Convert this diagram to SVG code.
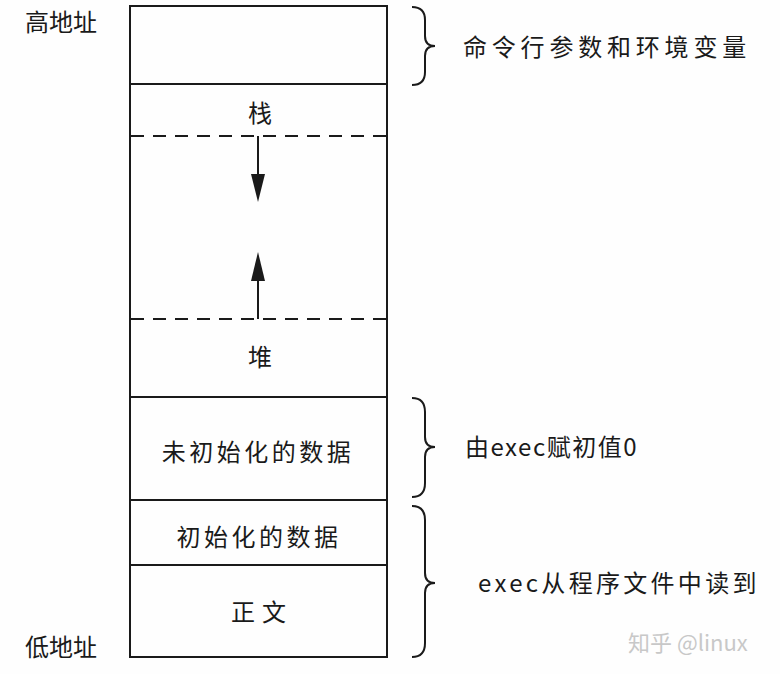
<svg xmlns="http://www.w3.org/2000/svg" width="780" height="674" viewBox="0 0 780 674">
<style>
.t{font-family:"Noto Sans CJK SC","Noto Sans",sans-serif;fill:#1a1a1a;font-size:24px;}
.c{text-anchor:middle;}
.box{fill:none;stroke:#1a1a1a;stroke-width:2;}
.dash{stroke:#1a1a1a;stroke-width:2;stroke-dasharray:13,9;}
.brace{fill:none;stroke:#1a1a1a;stroke-width:2;}
.arr{stroke:#1a1a1a;stroke-width:2;}
</style>
<rect width="780" height="674" fill="#fefefe"/>
<g id="labels-addr">
<text class="t" x="25" y="31" font-size="25">高地址</text>
<text class="t" x="25" y="656" font-size="25">低地址</text>
</g>
<g id="memory">
<rect class="box" x="130" y="6" width="257" height="651"/>
<line class="box" x1="130" y1="84" x2="387" y2="84"/>
<line class="dash" x1="131" y1="136" x2="386" y2="136"/>
<line class="dash" x1="131" y1="319" x2="386" y2="319"/>
<line class="box" x1="130" y1="397" x2="387" y2="397"/>
<line class="box" x1="130" y1="500" x2="387" y2="500"/>
<line class="box" x1="130" y1="565" x2="387" y2="565"/>
</g>
<g id="stack"><text class="t c" x="260" y="122">栈</text></g>
<g id="heap"><text class="t c" x="260" y="366">堆</text></g>
<g id="bss"><text class="t c" x="258" y="461" font-size="25" letter-spacing="3.5">未初始化的数据</text></g>
<g id="data"><text class="t c" x="259" y="546" letter-spacing="3.5">初始化的数据</text></g>
<g id="text"><text class="t c" x="262" y="621" letter-spacing="7">正文</text></g>
<g id="connectors">
<line class="arr" x1="258" y1="136" x2="258" y2="178"/>
<path d="M251,174 L265,174 L258,202 Z" fill="#1a1a1a"/>
<line class="arr" x1="258" y1="319" x2="258" y2="278"/>
<path d="M251,281 L265,281 L258,252 Z" fill="#1a1a1a"/>
</g>
<g id="brace-args">
<path class="brace" d="M412,7 Q425,7 425,20 L425,36 Q425,46 435,46 Q425,46 425,56 L425,72 Q425,85 412,85"/>
<text class="t" x="463" y="56" font-size="25" letter-spacing="4.8">命令行参数和环境变量</text>
</g>
<g id="brace-bss">
<path class="brace" d="M412,398 Q425,398 425,412 L425,437 Q425,447 435,447 Q425,447 425,457 L425,483 Q425,497 412,497"/>
<text class="t" x="465" y="456" font-size="25" letter-spacing="1.5">由exec赋初值0</text>
</g>
<g id="brace-file">
<path class="brace" d="M412,506 Q425,506 425,520 L425,573 Q425,583 435,583 Q425,583 425,593 L425,643 Q425,657 412,657"/>
<text class="t" x="478" y="592" letter-spacing="3.3">exec从程序文件中读到</text>
</g>
<text x="628" y="651" font-family="Noto Sans CJK SC,sans-serif" font-size="22" fill="#c8c8c8">知乎 @linux</text>
</svg>
